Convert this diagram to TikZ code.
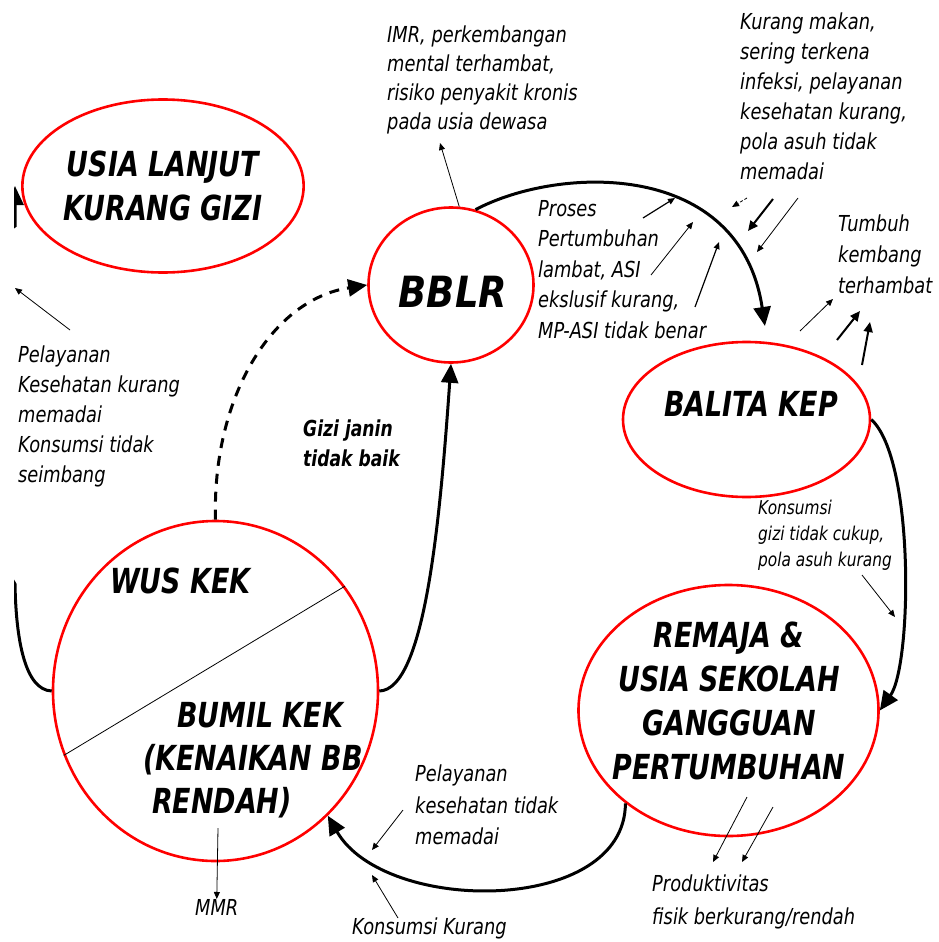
\documentclass[tikz,border=0pt]{standalone}
\usepackage{fontspec}
\usetikzlibrary{shapes.geometric,arrows.meta}
\newfontfamily\lbl[FakeStretch=0.78,
  ItalicFont={DejaVu Sans Oblique},
  BoldFont={DejaVu Sans Bold},
  BoldItalicFont={DejaVu Sans Bold Oblique}]{DejaVu Sans}
\newfontfamily\nte[FakeStretch=0.81,
  ItalicFont={DejaVu Sans Oblique},
  BoldFont={DejaVu Sans Bold},
  BoldItalicFont={DejaVu Sans Bold Oblique}]{DejaVu Sans}
\newfontfamily\wide[FakeStretch=0.86,
  BoldItalicFont={DejaVu Sans Bold Oblique}]{DejaVu Sans}

\begin{document}
\begin{tikzpicture}[x=1pt,y=-1pt,
  cyc/.style={ellipse,draw=red,line width=2.6pt,inner sep=0pt},
  big/.style={font=\lbl\bfseries\itshape\fontsize{34.5}{44}\selectfont,align=center,inner sep=0pt},
  note/.style={font=\nte\itshape\fontsize{22}{30}\selectfont,align=left,inner sep=0pt,anchor=north west},
  flow/.style={line width=3pt,-{Triangle[length=19pt,width=17pt]}},
  hint/.style={line width=0.8pt,-{Triangle[length=7pt,width=6pt]}},
  bhint/.style={line width=2pt,-{Triangle[length=10pt,width=9pt]}}]
  \useasboundingbox (0,0) rectangle (938,942);
  \path
  (163,186) node[cyc,big,minimum width=270pt,minimum height=173pt] (usia) {USIA LANJUT\\KURANG GIZI}
  (451,285) node[cyc,minimum width=165pt,minimum height=155pt] (bblr) {}
  (746.5,419.5) node[cyc,minimum width=247pt,minimum height=155pt] (balita) {}
  (728.5,710.5) node[cyc,minimum width=300pt,minimum height=251pt] (remaja) {}
  (215.5,691) node[cyc,minimum width=325pt,minimum height=340pt] (wus) {};
  \path
  (453,292) node[big,font=\wide\bfseries\itshape\fontsize{43}{50}\selectfont] (bblrtext) {BBLR}
  (751,404) node[big] (balitatext) {BALITA KEP}
  (729,701) node[big] (remajatext) {REMAJA \&\\USIA SEKOLAH\\GANGGUAN\\PERTUMBUHAN}
  (110,568) node[big,anchor=north west] (wustext) {WUS KEK}
  (143,702) node[big,anchor=north west,align=left,font=\lbl\bfseries\itshape\fontsize{34.5}{43}\selectfont] (bumil)
    {\hspace*{34pt}BUMIL KEK\\(KENAIKAN BB\\\hspace*{9pt}RENDAH)};
  \path
  (387,26) node[note,font=\nte\itshape\fontsize{22}{29}\selectfont] (imr)
    {IMR, perkembangan\\mental terhambat,\\risiko penyakit kronis\\pada usia dewasa}
  (740,13) node[note] (makan)
    {Kurang makan,\\sering terkena\\infeksi, pelayanan\\kesehatan kurang,\\pola asuh tidak\\memadai}
  (838,215) node[note,font=\nte\itshape\fontsize{22}{31}\selectfont] (tumbuh) {Tumbuh\\kembang\\terhambat}
  (538,200) node[note,font=\nte\itshape\fontsize{22}{30.5}\selectfont] (proses)
    {Proses\\Pertumbuhan\\lambat, ASI\\ekslusif kurang,\\MP-ASI tidak benar}
  (18,346) node[note] (lansia) {Pelayanan\\Kesehatan kurang\\memadai\\Konsumsi tidak\\seimbang}
  (303,420) node[note,font=\lbl\bfseries\itshape\fontsize{22}{30}\selectfont] (janin) {Gizi janin\\tidak baik}
  (758,500) node[note,font=\nte\itshape\fontsize{19}{26}\selectfont] (cukup)
    {Konsumsi\\gizi tidak cukup,\\pola asuh kurang}
  (415,765) node[note,font=\nte\itshape\fontsize{22}{31.5}\selectfont] (yankes) {Pelayanan\\kesehatan tidak\\memadai}
  (352,918) node[note] (kurang) {Konsumsi Kurang}
  (652,875) node[note,font=\nte\itshape\fontsize{22}{33}\selectfont] (produk) {Produktivitas\\fisik berkurang/rendah}
  (195,899) node[note] (mmr) {MMR};

  \draw[flow,shorten >=16pt] (bblr.72) .. controls (560,165) and (740,160) .. (balita.75);
  \draw[flow] (balita.east) .. controls (915,460) and (912,665) .. (remaja.east);
  \draw[flow] (remaja.222) .. controls (625,915) and (385,915) .. (wus.-48);
  \draw[flow,dash pattern=on 10pt off 8pt] (wus.north) .. controls (212,400) and (270,300) .. (bblr.west);
  \draw[flow] (wus.east) .. controls (425,690) and (440,520) .. (bblr.south);
  \draw[line width=0.8pt] (wus.203) -- (wus.39);
  \begin{scope}
    \clip (14,0) rectangle (938,942);
    \draw[flow] (wus.west) .. controls (25,690) and (16,640) .. (15,584)
      .. controls (-40,500) and (-40,260) .. (15,226) -- (15,186);
    \coordinate (lansiaA) at (70,330);
    \coordinate (lansiaB) at (15,288);
    \draw[hint] (lansiaA) -- (lansiaB);
  \end{scope}

  \path (440,143) coordinate (imrB)
    (747,198) coordinate (eatA) (732,207) coordinate (eatB)
    (773,199) coordinate (eatC) (748,231) coordinate (eatD)
    (798,198) coordinate (eatE) (757,252) coordinate (eatF)
    (643,218) coordinate (asiA) (675,198) coordinate (asiB)
    (651,275) coordinate (asiC) (693,222) coordinate (asiD)
    (695,307) coordinate (asiE) (719,242) coordinate (asiF)
    (800,331) coordinate (tbkA) (833,299) coordinate (tbkB)
    (837,340) coordinate (tbkC) (860,311) coordinate (tbkD)
    (862,365) coordinate (tbkE) (870,322) coordinate (tbkF)
    (862,575) coordinate (giziA) (895,617) coordinate (giziB)
    (403,810) coordinate (yanA) (372,850) coordinate (yanB)
    (398,918) coordinate (konA) (372,875) coordinate (konB)
    (747,797) coordinate (proA) (713,862) coordinate (proB)
    (773,807) coordinate (proC) (742,862) coordinate (proD)
    (218,828) coordinate (mmrA);
  \draw[hint] (bblr.84) -- (imrB);
  \draw[hint,dash pattern=on 3pt off 2pt] (eatA) -- (eatB);
  \draw[bhint] (eatC) -- (eatD);
  \draw[hint] (eatE) -- (eatF);
  \draw[hint,line width=1.2pt] (asiA) -- (asiB);
  \draw[hint] (asiC) -- (asiD);
  \draw[hint,line width=1.2pt] (asiE) -- (asiF);
  \draw[hint] (tbkA) -- (tbkB);
  \draw[bhint] (tbkC) -- (tbkD);
  \draw[bhint] (tbkE) -- (tbkF);
  \draw[hint] (giziA) -- (giziB);
  \draw[hint] (yanA) -- (yanB);
  \draw[hint] (konA) -- (konB);
  \draw[hint] (proA) -- (proB);
  \draw[hint] (proC) -- (proD);
  \draw[hint] (mmrA) -- (mmr.north);
\end{tikzpicture}
\end{document}
